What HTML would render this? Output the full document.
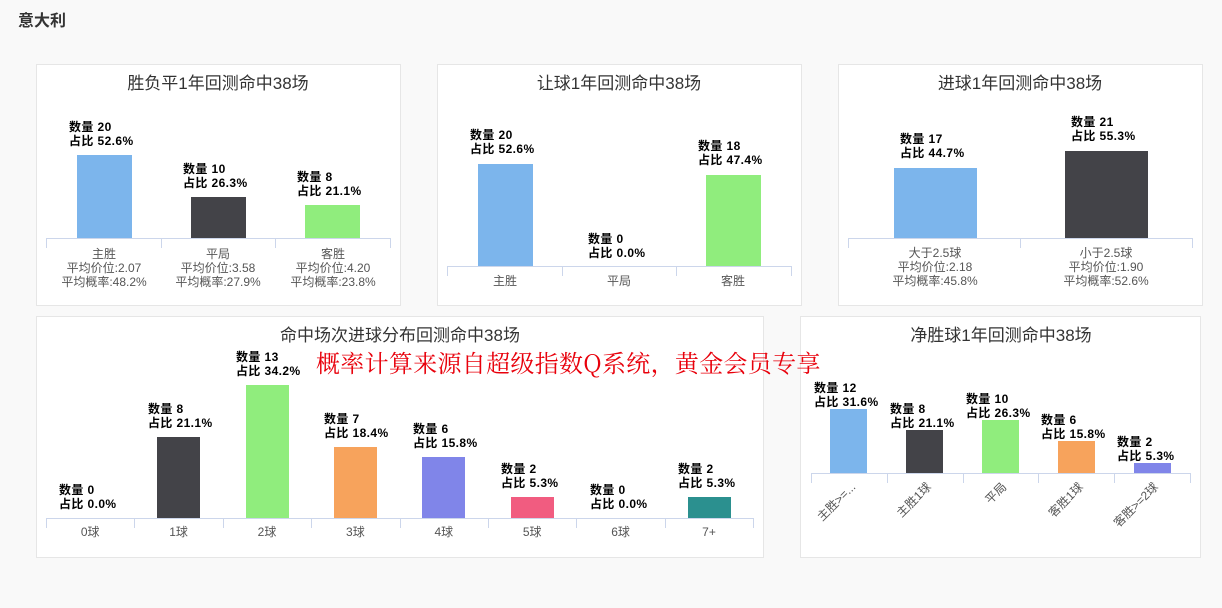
<!DOCTYPE html>
<html><head><meta charset="utf-8"><style>
body{margin:0;width:1222px;height:608px;background:#f9f9f9;position:relative;overflow:hidden;font-family:"Liberation Sans","Noto Sans CJK SC",sans-serif}
.a{position:absolute}
.p{position:absolute;background:#fff;border:1px solid #e6e6e6;box-sizing:border-box}
.t{position:absolute;font-size:17px;color:#333;white-space:nowrap;transform:translateX(-50%)}
.l{position:absolute;font-size:12px;font-weight:bold;color:#000;line-height:14px;white-space:nowrap;letter-spacing:0.4px}
.c{position:absolute;font-size:12px;color:#555;line-height:14px;text-align:center;white-space:nowrap;transform:translateX(-50%)}
.ax{position:absolute;height:1px;background:#ccd6eb}
.tk{position:absolute;width:1px;height:10px;background:#ccd6eb}
.r{position:absolute;font-size:12px;color:#555;white-space:nowrap;transform-origin:right center;transform:rotate(-45deg)}
</style></head><body>
<div class="a" style="left:18px;top:7px;font-size:16px;font-weight:bold;color:#333">意大利</div>
<div class="p" style="left:36px;top:64px;width:365px;height:242px"></div>
<div class="p" style="left:437px;top:64px;width:365px;height:242px"></div>
<div class="p" style="left:838px;top:64px;width:365px;height:242px"></div>
<div class="p" style="left:36px;top:316px;width:728px;height:242px"></div>
<div class="p" style="left:800px;top:316px;width:401px;height:242px"></div>
<div id="g"></div>
<div class="a" style="left:316px;top:344px;font-size:24px;letter-spacing:0.3px;color:#e8000b;font-family:'Noto Serif CJK SC','Liberation Serif',serif;white-space:nowrap">概率计算来源自超级指数Q系统，黄金会员专享</div>
<script>
var h='';
function T(x,y,s){h+='<div class="t" style="left:'+x+'px;top:'+(y-14)+'px">'+s+'</div>';}
function B(x,w,top,base,col){if(base>top)h+='<div class="a" style="left:'+x+'px;top:'+top+'px;width:'+w+'px;height:'+(base-top)+'px;background:'+col+'"></div>';}
function L(x,y,n,p){h+='<div class="l" style="left:'+x+'px;top:'+(y-7)+'px">数量 '+n+'<br>占比 '+p+'</div>';}
function A(x1,x2,y,n){h+='<div class="ax" style="left:'+x1+'px;top:'+y+'px;width:'+(x2-x1)+'px"></div>';for(var i=0;i<=n;i++){h+='<div class="tk" style="left:'+Math.round(x1+(x2-x1)*i/n)+'px;top:'+y+'px"></div>';}}
function C(x,y,s){h+='<div class="c" style="left:'+x+'px;top:'+(y-7)+'px">'+s+'</div>';}
T(218,83,'胜负平1年回测命中38场');
B(77,55,155,238,'#7cb5ec');B(191,55,197,238,'#434348');B(305,55,205,238,'#90ed7d');
A(46,390,238,3);
L(69,127,20,'52.6%');L(183,169,10,'26.3%');L(297,177,8,'21.1%');
C(104,254,'主胜<br>平均价位:2.07<br>平均概率:48.2%');C(218,254,'平局<br>平均价位:3.58<br>平均概率:27.9%');C(333,254,'客胜<br>平均价位:4.20<br>平均概率:23.8%');
T(619,83,'让球1年回测命中38场');
B(478,55,164,266,'#7cb5ec');B(706,55,175,266,'#90ed7d');
A(447,791,266,3);
L(470,135,20,'52.6%');L(588,239,0,'0.0%');L(698,146,18,'47.4%');
C(505,281,'主胜');C(619,281,'平局');C(733,281,'客胜');
T(1020,83,'进球1年回测命中38场');
B(894,83,168,238,'#7cb5ec');B(1065,83,151,238,'#434348');
A(848,1192,238,2);
L(900,139,17,'44.7%');L(1071,122,21,'55.3%');
C(935,253,'大于2.5球<br>平均价位:2.18<br>平均概率:45.8%');C(1106,253,'小于2.5球<br>平均价位:1.90<br>平均概率:52.6%');
T(400,335,'命中场次进球分布回测命中38场');
var cols=['#7cb5ec','#434348','#90ed7d','#f7a35c','#8085e9','#f15c80','#e4d354','#2b908f'];
var tops=[518,437,385,447,457,497,518,497],ns=[0,8,13,7,6,2,0,2],ps=['0.0%','21.1%','34.2%','18.4%','15.8%','5.3%','0.0%','5.3%'];
var cats=['0球','1球','2球','3球','4球','5球','6球','7+'];
A(46,753,518,8);
for(var i=0;i<8;i++){var cx=46+88.4*(i+0.5);B(Math.round(cx-21.5),43,tops[i],518,cols[i]);L(Math.round(cx-31),(tops[i]<518?tops[i]:518)-28,ns[i],ps[i]);C(cx,532,cats[i]);}
T(1001,335,'净胜球1年回测命中38场');
var t5=[409,430,420,441,463],n5=[12,8,10,6,2],p5=['31.6%','21.1%','26.3%','15.8%','5.3%'],c5=['主胜>=...','主胜1球','平局','客胜1球','客胜>=2球'];
A(811,1190,473,5);
for(var i=0;i<5;i++){var cx=811+75.8*(i+0.5);B(Math.round(cx-18.5),37,t5[i],473,cols[i]);L(Math.round(cx-35),t5[i]-21,n5[i],p5[i]);
h+='<div class="r" style="right:'+(1222-cx-4)+'px;top:476px">'+c5[i]+'</div>';}
document.getElementById('g').innerHTML=h;
</script>
</body></html>
